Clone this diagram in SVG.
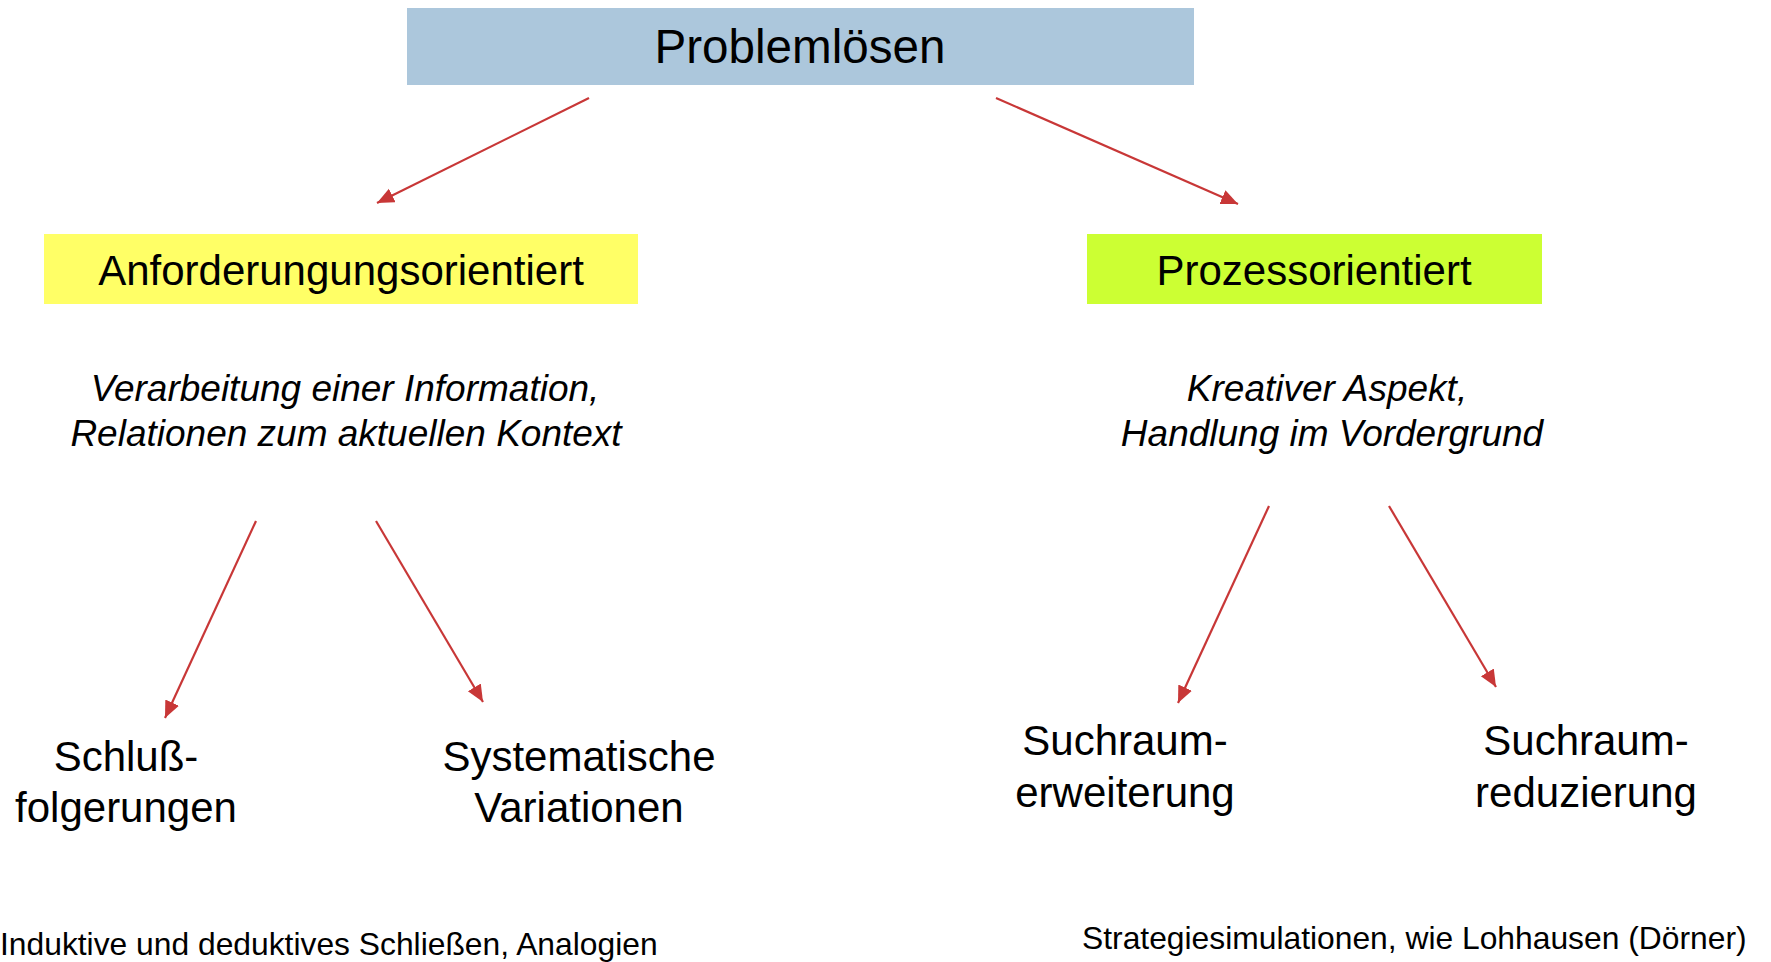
<svg xmlns="http://www.w3.org/2000/svg" width="1771" height="962" viewBox="0 0 1771 962">
<style>
text{font-family:"Liberation Sans",Arial,sans-serif;fill:#000;}
.t{font-size:42px;text-anchor:middle;}
.h{font-size:47.6px;text-anchor:middle;}
.i{font-size:37px;font-style:italic;text-anchor:middle;}
.n{font-size:31.8px;}
.c line{stroke:#C83737;stroke-width:2.2;marker-end:url(#ah);}
</style>
<defs>
<marker id="ah" markerUnits="userSpaceOnUse" markerWidth="18" markerHeight="16" refX="17" refY="7.5" orient="auto">
<path d="M0,0 L17,7.5 L0,15 z" fill="#C83737"/>
</marker>
</defs>
<rect width="1771" height="962" fill="#fff"/>
<g id="problemloesen">
<rect x="407" y="8" width="787" height="77" fill="#ACC7DC"/>
<text class="h" x="800" y="63">Problemlösen</text>
</g>
<g id="anforderung">
<rect x="44" y="234" width="594" height="70" fill="#FFFF66"/>
<text class="t" x="341" y="285">Anforderungungsorientiert</text>
</g>
<g id="prozess">
<rect x="1087" y="234" width="455" height="70" fill="#CCFF33"/>
<text class="t" x="1314" y="285">Prozessorientiert</text>
</g>
<g id="desc-left">
<text class="i" x="345" y="401">Verarbeitung einer Information,</text>
<text class="i" x="346" y="446">Relationen zum aktuellen Kontext</text>
</g>
<g id="desc-right">
<text class="i" x="1327" y="401">Kreativer Aspekt,</text>
<text class="i" x="1332" y="446">Handlung im Vordergrund</text>
</g>
<g id="schluss">
<text class="t" x="126" y="771">Schluß-</text>
<text class="t" x="126" y="822">folgerungen</text>
</g>
<g id="systematisch">
<text class="t" x="579" y="771">Systematische</text>
<text class="t" x="579" y="822">Variationen</text>
</g>
<g id="erweiterung">
<text class="t" x="1125" y="755">Suchraum-</text>
<text class="t" x="1125" y="807">erweiterung</text>
</g>
<g id="reduzierung">
<text class="t" x="1586" y="755">Suchraum-</text>
<text class="t" x="1586" y="807">reduzierung</text>
</g>
<g id="note-left">
<text class="n" x="0" y="955">Induktive und deduktives Schließen, Analogien</text>
</g>
<g id="note-right">
<text class="n" x="1082" y="949">Strategiesimulationen, wie Lohhausen (Dörner)</text>
</g>
<g id="connectors" class="c">
<line x1="589" y1="98" x2="377" y2="203"/>
<line x1="996" y1="98" x2="1238" y2="204"/>
<line x1="256" y1="521" x2="165" y2="718"/>
<line x1="376" y1="521" x2="483" y2="702"/>
<line x1="1269" y1="506" x2="1178" y2="703"/>
<line x1="1389" y1="506" x2="1496" y2="687"/>
</g>
</svg>
